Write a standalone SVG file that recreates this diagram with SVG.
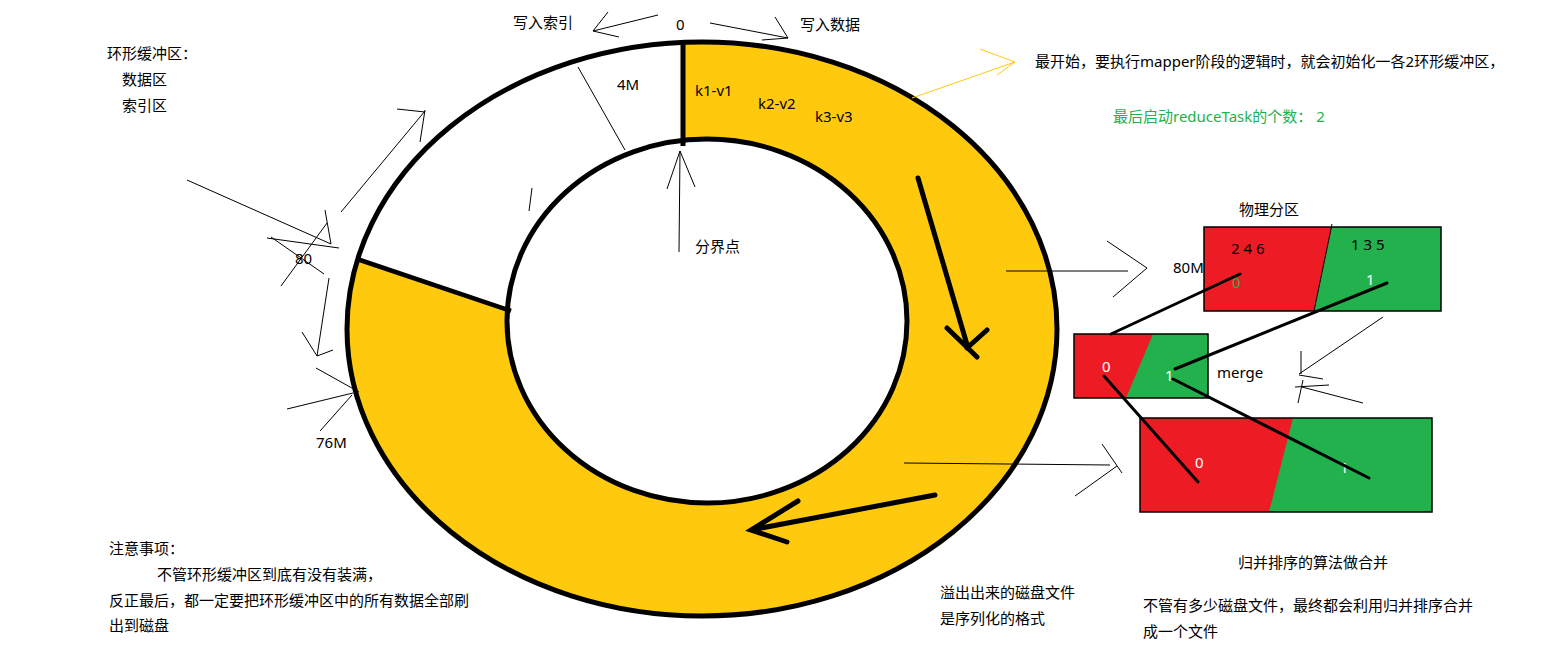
<svg xmlns="http://www.w3.org/2000/svg" width="1565" height="665" viewBox="0 0 1565 665">
<style>
text{font-family:"Noto Sans","Noto Sans CJK SC",sans-serif;font-size:15px;fill:#000}
.w{fill:#fff}
.g{fill:#22B14C}
.thin{stroke:#000;stroke-width:1;fill:none}
.thick{stroke:#000;stroke-width:3;fill:none;stroke-linecap:round}
.bold{stroke:#000;stroke-width:5;fill:none;stroke-linecap:round}
.ring{stroke:#000;stroke-width:5;fill:none}
.box{stroke:#000;stroke-width:1.5}
.red{fill:#ED1C24}
.grn{fill:#22B14C}
</style>
<rect width="1565" height="665" fill="#fff"/>

<g id="ring-buffer">
  <ellipse cx="702" cy="329" rx="355" ry="287" fill="#FFC90E"/>
  <path d="M683,42.4 A355,287 0 0 0 357.7,259 L507.3,311 A200,182 0 0 1 683,140.3 Z" fill="#fff"/>
  <ellipse cx="707" cy="321" rx="200" ry="182" fill="#fff"/>
  <ellipse class="ring" cx="702" cy="329" rx="355" ry="287"/>
  <ellipse class="ring" cx="707" cy="321" rx="200" ry="182"/>
  <line x1="683" y1="40" x2="683" y2="146" stroke="#000" stroke-width="5"/>
  <line x1="357" y1="259" x2="511" y2="311" stroke="#000" stroke-width="4.5"/>
  <text x="617" y="90">4M</text>
  <text x="695" y="96">k1-v1</text>
  <text x="758" y="109">k2-v2</text>
  <text x="815" y="122">k3-v3</text>
</g>

<g id="partition-top">
  <rect x="1204" y="227" width="237" height="84" class="grn"/>
  <polygon points="1204,227 1332,227 1314,311 1204,311" class="red"/>
  <rect x="1204" y="227" width="237" height="84" fill="none" class="box"/>
  <line x1="1332" y1="224" x2="1314" y2="311" stroke="#000" stroke-width="1"/>
  <text x="1231" y="254">2 4 6</text>
  <text x="1351" y="250">1 3 5</text>
  <text x="1232" y="288" class="g">0</text>
  <text x="1366" y="285" class="w">1</text>
</g>

<g id="partition-merge">
  <rect x="1074" y="334" width="134" height="64" class="grn"/>
  <polygon points="1074,334 1153,334 1126,398 1074,398" class="red"/>
  <rect x="1074" y="334" width="134" height="64" fill="none" class="box"/>
  <text x="1102" y="372" class="w">0</text>
  <text x="1165" y="381" class="w">1</text>
</g>

<g id="partition-final">
  <rect x="1140" y="418" width="292" height="94" class="grn"/>
  <polygon points="1140,418 1293,418 1269,512 1140,512" class="red"/>
  <rect x="1140" y="418" width="292" height="94" fill="none" class="box"/>
  <text x="1195" y="468" class="w">0</text>
  <text x="1340" y="473" class="w">1</text>
</g>

<g id="connectors">
  <!-- write index / write data -->
  <path class="thin" d="M658,15 L593,31 M593,31 L608,12 M593,31 L619,37"/>
  <path class="thin" d="M710,23 L788,38 M788,38 L775,17 M788,38 L762,40"/>
  <!-- 4M measure -->
  <path class="thin" d="M578,67 L625,150"/>
  <path class="thin" d="M532,188 L529,211"/>
  <!-- boundary point arrow -->
  <path class="thin" d="M679,252 L680,151 M680,151 L667,189 M680,151 L695,187"/>
  <!-- yellow arrow -->
  <path d="M912,98 L1015,62 M1015,62 L980,49 M1015,62 L997,75" stroke="#FFC90E" stroke-width="1" fill="none"/>
  <!-- left side arrows -->
  <path class="thin" d="M187,180 L331,244 M325,210 L331,244 M267,238 L339,248 M271,237 L324,274 M327,223 L281,286"/>
  <path class="thin" d="M341,212 L425,111 M397,109 L425,112 M425,110 L420,142"/>
  <path class="thin" d="M329,278 L317,356 M302,332 L317,356 L333,350"/>
  <path class="thin" d="M316,368 L359,392 M287,409 L353,393 M320,431 L352,395"/>
  <!-- bold arrows in ring -->
  <path class="bold" d="M918,178 L968,348 M947,328 L977,357 M987,330 L967,348"/>
  <path class="bold" d="M935,495 L751,530 M798,501 L751,530 L787,542"/>
  <!-- spill arrows -->
  <path class="thin" d="M1006,271 L1128,271 M1107,241 L1147,268 M1113,297 L1147,268"/>
  <path class="thin" d="M904,463 L1110,465 M1102,444 L1122,473 M1075,496 L1117,466"/>
  <!-- partition to merge -->
  <path class="thick" d="M1240,274 L1111,334"/>
  <path class="thick" d="M1387,283 L1175,369"/>
  <path class="thick" d="M1104,376 L1198,482"/>
  <path class="thick" d="M1173,379 L1369,478"/>
  <!-- merge arrow -->
  <path class="thin" d="M1383,317 L1299,374 M1301,351 L1301,374 M1299,375 L1323,379 M1295,387 L1329,385 M1302,387 L1363,403 M1303,380 L1298,403"/>
</g>

<g id="labels">
  <text x="676" y="30">0</text>
  <text x="513" y="28">写入索引</text>
  <text x="800" y="30">写入数据</text>
  <text x="695" y="252">分界点</text>
  <text x="107" y="59">环形缓冲区：</text>
  <text x="122" y="85">数据区</text>
  <text x="122" y="111">索引区</text>
  <text x="295" y="264">80</text>
  <text x="316" y="448">76M</text>
  <text x="1035" y="67">最开始，要执行mapper阶段的逻辑时，就会初始化一各2环形缓冲区，</text>
  <text x="1113" y="122" class="g">最后启动reduceTask的个数： 2</text>
  <text x="1239" y="215">物理分区</text>
  <text x="1173" y="273">80M</text>
  <text x="1217" y="378">merge</text>
  <text x="1238" y="568">归并排序的算法做合并</text>
  <text x="1143" y="611">不管有多少磁盘文件，最终都会利用归并排序合并</text>
  <text x="1143" y="637">成一个文件</text>
  <text x="940" y="598">溢出出来的磁盘文件</text>
  <text x="940" y="624">是序列化的格式</text>
  <text x="109" y="554">注意事项：</text>
  <text x="157" y="580">不管环形缓冲区到底有没有装满，</text>
  <text x="109" y="606">反正最后，都一定要把环形缓冲区中的所有数据全部刷</text>
  <text x="109" y="631">出到磁盘</text>
</g>
</svg>
